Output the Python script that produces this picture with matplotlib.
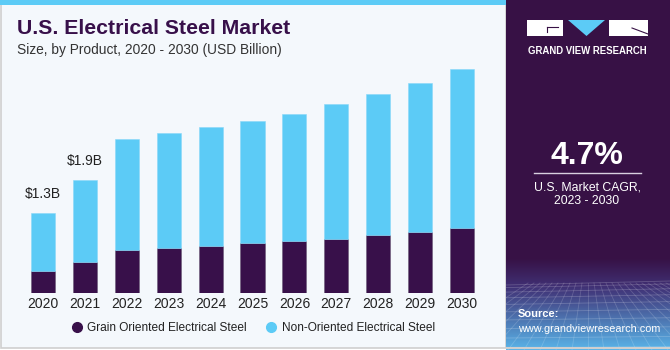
import numpy as np
import matplotlib.pyplot as plt
from matplotlib.patches import Rectangle, Polygon
from matplotlib.lines import Line2D

years = ['2020', '2021', '2022', '2023', '2024', '2025', '2026', '2027', '2028', '2029', '2030']
grain_oriented = [0.36, 0.52, 0.72, 0.745, 0.78, 0.83, 0.86, 0.90, 0.96, 1.01, 1.08]
total = [1.33, 1.88, 2.57, 2.67, 2.77, 2.87, 2.98, 3.15, 3.32, 3.50, 3.73]
non_oriented = [t - g for t, g in zip(total, grain_oriented)]
value_labels = {0: '$1.3B', 1: '$1.9B'}

DARK = '#38104a'
BLUE = '#5ccbf6'
BG = '#f4f8fc'
PANEL = '#371145'

W, H = 670, 350
plt.rcParams['font.family'] = ['Liberation Sans', 'DejaVu Sans']

fig = plt.figure(figsize=(W / 100, H / 100), dpi=100)
fig.patch.set_facecolor('white')


def fx(px):
    return px / W


def fy(py):
    return 1 - py / H


### background panels (zorder below the axes)
fig.patches.append(Rectangle((fx(1), fy(348)), fx(505), 347 / H, transform=fig.transFigure,
                             facecolor=BG, edgecolor='#cfcfcf', lw=1.2, zorder=-2))
fig.patches.append(Rectangle((0, fy(5)), fx(506), 5 / H, transform=fig.transFigure,
                             facecolor=BLUE, edgecolor='none', zorder=-1))

### right side panel with gradient bottom
pax = fig.add_axes([fx(506), 0, fx(164), 1])
pax.set_xlim(0, 164)
pax.set_ylim(350, 0)
pax.axis('off')
grad = np.zeros((350, 1, 3))
top_c = np.array([0x37, 0x11, 0x45]) / 255
mid_c = np.array([0x40, 0x30, 0x74]) / 255
bot_c = np.array([0x5a, 0xb6, 0xea]) / 255
for r in range(350):
    if r < 258:
        grad[r, 0] = top_c
    elif r < 286:
        t = (r - 258) / 28
        grad[r, 0] = top_c * (1 - t) + mid_c * t
    else:
        t = (r - 286) / 64
        grad[r, 0] = mid_c * (1 - t) + bot_c * t
pax.imshow(grad, extent=[0, 164, 350, 0], aspect='auto', zorder=0)
# perspective grid texture
for k in range(14):
    yy = 285 + (k ** 1.45) * 2.6
    if yy < 348:
        pax.plot([0, 164], [yy, yy - 4 + k * 0.3], color='white', alpha=0.2, lw=0.6, zorder=1)
for k in range(-10, 24):
    x0 = 82 + k * 6
    x1 = 82 + k * 16
    pax.plot([x0, x1], [283, 350], color='white', alpha=0.17, lw=0.6, zorder=1)
pax.plot([0, 164], [348, 348], color='#cfcfcf', lw=1.5, zorder=2)

# logo
pax.add_patch(Rectangle((21, 20), 36, 16, facecolor='white', zorder=3))
pax.plot([41, 52], [27, 27], color=PANEL, lw=0.8, zorder=4)
pax.plot([41, 41], [27, 32], color=PANEL, lw=0.8, zorder=4)
pax.add_patch(Polygon([[62, 20], [99, 20], [80.5, 36]], closed=True, facecolor=BLUE, zorder=3))
pax.add_patch(Rectangle((103, 20), 39, 16, facecolor='white', zorder=3))
pax.plot([126, 142], [28, 34], color=PANEL, lw=0.8, zorder=4)
pax.text(81.5, 51, 'GRAND VIEW RESEARCH', color='white', fontsize=6.9, fontweight='bold',
         ha='center', va='center', zorder=4)

pax.text(81, 156, '4.7%', color='white', fontsize=23, fontweight='bold',
         ha='center', va='center', zorder=4)
pax.plot([28, 135], [173, 173], color='#d8d0e0', lw=1, zorder=4)
pax.text(81, 187, 'U.S. Market CAGR,', color='white', fontsize=8.8,
         ha='center', va='center', zorder=4)
pax.text(81, 201, '2023 - 2030', color='white', fontsize=8.8,
         ha='center', va='center', zorder=4)
pax.text(12, 314, 'Source:', color='white', fontsize=8, fontweight='bold',
         ha='left', va='center', zorder=4)
pax.text(12, 329, 'www.grandviewresearch.com', color='white', fontsize=7.8,
         ha='left', va='center', zorder=4)

### titles
fig.text(fx(17), fy(28), 'U.S. Electrical Steel Market', color=DARK, fontsize=15.3,
         fontweight='bold', ha='left', va='center')
fig.text(fx(17), fy(50), 'Size, by Product, 2020 - 2030 (USD Billion)', color='#333333',
         fontsize=9.95, ha='left', va='center')

### bar chart
ax = fig.add_axes([fx(22), fy(293), fx(461), 233 / H])
ax.set_facecolor('none')
x = np.arange(len(years))
ax.bar(x, grain_oriented, width=0.575, color=DARK, edgecolor='#6b5a78', lw=0.4,
       label='Grain Oriented Electrical Steel')
ax.bar(x, non_oriented, bottom=grain_oriented, width=0.575, color=BLUE, edgecolor='#8ad8f8',
       lw=0.4, label='Non-Oriented Electrical Steel')
for i, lab in value_labels.items():
    ax.annotate(lab, (x[i], total[i]), xytext=(0, 19), textcoords='offset pixels',
                ha='center', va='center', fontsize=10, color='#222222')
ax.set_xlim(-0.5, len(years) - 0.5)
ax.set_ylim(0, 233 / 60)
ax.set_xticks(x)
ax.set_xticklabels(years, fontsize=10, color='#222222')
ax.tick_params(axis='x', length=0, pad=3)
ax.set_yticks([])
for s in ax.spines.values():
    s.set_visible(False)

handles = [Line2D([], [], marker='o', ls='none', color=DARK, markersize=7),
           Line2D([], [], marker='o', ls='none', color=BLUE, markersize=7)]
fig.legend(handles, ['Grain Oriented Electrical Steel', 'Non-Oriented Electrical Steel'],
           loc='center left', bbox_to_anchor=(fx(54), fy(328)), ncol=2, frameon=False,
           fontsize=8.6, handletextpad=-0.1, columnspacing=1.0, labelcolor='#222222')

fig.savefig('out.png', dpi=100, facecolor=fig.get_facecolor())
